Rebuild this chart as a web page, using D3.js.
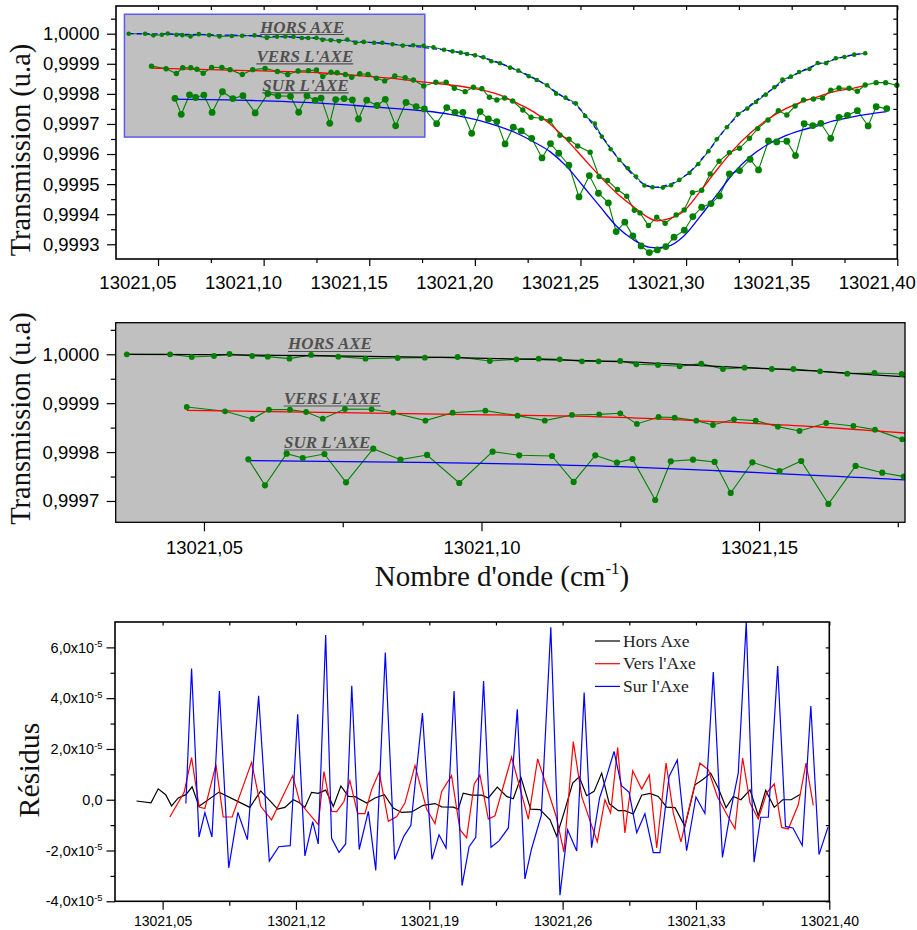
<!DOCTYPE html>
<html><head><meta charset="utf-8">
<script src="https://cdn.jsdelivr.net/npm/d3@7"></script>
<style>body{margin:0;background:#fff}svg{display:block}</style>
</head><body>
<svg id="chart" width="917" height="930"></svg>
<script>
// ---------------- DATA ----------------
// Measured transmission (wavenumber in cm-1, transmission in u.a)
const horsX = [13021.0361,13021.0439,13021.0478,13021.0518,13021.0546,13021.0587,13021.0615,13021.0654,13021.0693,13021.0742,
13021.0791,13021.0849,13021.0898,13021.0957,13021.1015,13021.1063,13021.1103,13021.1141,13021.1181,13021.1211,
13021.1250,13021.1279,13021.1318,13021.1357,13021.1396,13021.1435,13021.1474,13021.1523,13021.1562,13021.1610,
13021.1659,13021.1708,13021.1757,13021.1804,13021.1854,13021.1894,13021.1933,13021.1963,13021.2001,13021.2040,
13021.2078,13021.2119,13021.2167,13021.2206,13021.2255,13021.2293,13021.2342,13021.2385,13021.2429,13021.2478,
13021.2522,13021.2568,13021.2601,13021.2643,13021.2684,13021.2724,13021.2763,13021.2803,13021.2841,13021.2890,
13021.2929,13021.2968,13021.3016,13021.3058,13021.3106,13021.3145,13021.3193,13021.3245,13021.3290,13021.3331,
13021.3377,13021.3418,13021.3456,13021.3496,13021.3535,13021.3584,13021.3623,13021.3663,13021.3709,13021.3750,
13021.3796,13021.3848];
const horsY = [1.0000000,1.0000000,0.9999945,0.9999965,1.0000006,0.9999965,0.9999952,0.9999911,0.9999986,0.9999952,
0.9999911,0.9999924,0.9999931,0.9999945,0.9999863,0.9999897,0.9999911,0.9999897,0.9999856,0.9999856,
0.9999863,0.9999795,0.9999781,0.9999754,0.9999808,0.9999699,0.9999727,0.9999699,0.9999699,0.9999652,
0.9999604,0.9999618,0.9999597,0.9999547,0.9999469,0.9999414,0.9999370,0.9999326,0.9999281,0.9999215,
0.9999082,0.9999016,0.9998872,0.9998772,0.9998584,0.9998462,0.9998285,0.9998008,0.9997875,0.9997687,
0.9997266,0.9997011,0.9996579,0.9996159,0.9995804,0.9995528,0.9995251,0.9994952,0.9994896,0.9994885,
0.9994963,0.9995140,0.9995372,0.9995671,0.9996092,0.9996491,0.9996890,0.9997332,0.9997510,0.9997731,
0.9997975,0.9998218,0.9998473,0.9998573,0.9998728,0.9998827,0.9999027,0.9999016,0.9999182,0.9999226,
0.9999303,0.9999348];

const versX = [13021.0469,13021.0538,13021.0587,13021.0617,13021.0655,13021.0684,13021.0714,13021.0754,13021.0802,13021.0841,
13021.0899,13021.0948,13021.1007,13021.1065,13021.1114,13021.1163,13021.1212,13021.1250,13021.1280,13021.1319,
13021.1348,13021.1387,13021.1417,13021.1455,13021.1494,13021.1534,13021.1573,13021.1621,13021.1670,13021.1709,
13021.1758,13021.1815,13021.1864,13021.1903,13021.1954,13021.1993,13021.2033,13021.2069,13021.2104,13021.2141,
13021.2179,13021.2227,13021.2266,13021.2315,13021.2356,13021.2403,13021.2446,13021.2487,13021.2546,13021.2588,
13021.2628,13021.2675,13021.2719,13021.2755,13021.2782,13021.2822,13021.2861,13021.2901,13021.2953,13021.2991,
13021.3030,13021.3074,13021.3114,13021.3156,13021.3205,13021.3253,13021.3300,13021.3339,13021.3388,13021.3437,
13021.3477,13021.3516,13021.3556,13021.3603,13021.3646,13021.3685,13021.3724,13021.3772,13021.3811,13021.3848,
13021.3900,13021.3945,13021.3998];
const versY = [0.9998922,0.9998834,0.9998677,0.9998868,0.9998868,0.9998820,0.9998684,0.9998881,0.9998875,0.9998806,
0.9998643,0.9998806,0.9998847,0.9998745,0.9998643,0.9998759,0.9998772,0.9998793,0.9998575,0.9998718,
0.9998704,0.9998643,0.9998554,0.9998670,0.9998643,0.9998520,0.9998431,0.9998595,0.9998534,0.9998459,
0.9998261,0.9998384,0.9998384,0.9998185,0.9998074,0.9998218,0.9998174,0.9997886,0.9997798,0.9997864,
0.9997764,0.9997465,0.9997222,0.9997189,0.9997111,0.9996624,0.9996491,0.9996269,0.9996059,0.9995251,
0.9995118,0.9994819,0.9994597,0.9994132,0.9994044,0.9993623,0.9993900,0.9993700,0.9993977,0.9994143,
0.9994719,0.9994797,0.9995339,0.9995760,0.9996048,0.9996192,0.9996524,0.9996845,0.9997133,0.9997443,
0.9997299,0.9997598,0.9997798,0.9997831,0.9997864,0.9998119,0.9998196,0.9998185,0.9998086,0.9998296,
0.9998373,0.9998373,0.9998285];

const surX = [13021.0580,13021.0610,13021.0649,13021.0678,13021.0717,13021.0756,13021.0805,13021.0854,13021.0902,13021.0960,
13021.1020,13021.1068,13021.1127,13021.1166,13021.1205,13021.1244,13021.1272,13021.1313,13021.1341,13021.1381,
13021.1420,13021.1449,13021.1488,13021.1537,13021.1576,13021.1625,13021.1674,13021.1722,13021.1761,13021.1819,
13021.1867,13021.1906,13021.1943,13021.1985,13021.2025,13021.2064,13021.2104,13021.2143,13021.2182,13021.2220,
13021.2269,13021.2318,13021.2358,13021.2397,13021.2445,13021.2493,13021.2542,13021.2585,13021.2632,13021.2669,
13021.2710,13021.2748,13021.2787,13021.2826,13021.2864,13021.2904,13021.2943,13021.2992,13021.3032,13021.3074,
13021.3118,13021.3158,13021.3205,13021.3253,13021.3303,13021.3343,13021.3390,13021.3429,13021.3477,13021.3518,
13021.3559,13021.3600,13021.3638,13021.3685,13021.3724,13021.3764,13021.3811,13021.3862,13021.3900,13021.3950];
const surY = [0.9997852,0.9997320,0.9997968,0.9997879,0.9997961,0.9997382,0.9998070,0.9997845,0.9997941,0.9997368,
0.9998009,0.9997934,0.9997920,0.9997389,0.9997934,0.9997784,0.9997859,0.9997020,0.9997811,0.9997845,
0.9997798,0.9997164,0.9997791,0.9997613,0.9997818,0.9996939,0.9997716,0.9997579,0.9997498,0.9997011,
0.9997543,0.9997388,0.9997388,0.9996690,0.9997410,0.9997166,0.9997078,0.9996336,0.9996890,0.9996768,
0.9996524,0.9995871,0.9996347,0.9996026,0.9995627,0.9994575,0.9995284,0.9994697,0.9994376,0.9993423,
0.9993734,0.9993280,0.9992947,0.9992726,0.9992814,0.9992925,0.9993235,0.9993468,0.9993922,0.9994232,
0.9994354,0.9994608,0.9995339,0.9995450,0.9995827,0.9995472,0.9996435,0.9996402,0.9996425,0.9995948,
0.9997011,0.9996945,0.9997022,0.9996524,0.9997222,0.9997288,0.9997443,0.9996934,0.9997576,0.9997510];

// Fitted profiles
const horsFitX = [13021.0361,13021.05,13021.07,13021.0925,13021.11,13021.125,13021.1435,13021.161,13021.1757,13021.19,
13021.20,13021.21,13021.22,13021.23,13021.24,13021.25,13021.26,13021.27,13021.28,13021.285,13021.29,13021.30,
13021.31,13021.32,13021.33,13021.34,13021.35,13021.36,13021.37,13021.38,13021.385];
const horsFitY = [1.0000000,0.9999995,0.9999970,0.9999938,0.9999895,0.9999849,0.9999747,0.9999652,0.9999543,0.9999410,
0.9999280,0.9999070,0.9998790,0.9998450,0.9997990,0.9997480,0.9996600,0.9995680,0.9995000,0.9994900,0.9994950,0.9995300,
0.9996050,0.9996950,0.9997600,0.9998120,0.9998580,0.9998920,0.9999140,0.9999310,0.9999350];
const versFitX = [13021.0469,13021.0925,13021.125,13021.1435,13021.161,13021.1763,13021.196,13021.212,13021.220,13021.2277,
13021.2356,13021.2435,13021.2514,13021.2593,13021.2672,13021.2751,13021.2814,13021.2861,13021.292,13021.2987,
13021.3066,13021.3145,13021.3224,13021.3303,13021.3382,13021.3461,13021.354,13021.3619,13021.3697,13021.3777,13021.384];
const versFitY = [0.9998854,0.9998775,0.9998710,0.9998616,0.9998513,0.9998390,0.9998220,0.9997960,0.9997690,0.9997410,
0.9997000,0.9996470,0.9995860,0.9995250,0.9994700,0.9994250,0.9993920,0.9993780,0.9993850,0.9994090,
0.9994750,0.9995470,0.9996140,0.9996690,0.9997130,0.9997470,0.9997710,0.9997890,0.9998070,0.9998170,0.9998270];
const surFitX = [13021.058,13021.0925,13021.125,13021.1435,13021.161,13021.1763,13021.1883,13021.204,13021.2198,13021.2277,
13021.2356,13021.2435,13021.2514,13021.2593,13021.2672,13021.2751,13021.283,13021.2861,13021.2909,13021.2987,
13021.3066,13021.3145,13021.3224,13021.3303,13021.3382,13021.3461,13021.354,13021.3619,13021.3697,13021.3777,13021.3856,13021.395];
const surFitY = [0.9997825,0.9997784,0.9997702,0.9997613,0.9997518,0.9997430,0.9997320,0.9997080,0.9996690,0.9996410,
0.9996080,0.9995580,0.9994920,0.9994250,0.9993590,0.9993150,0.9992900,0.9992890,0.9992920,0.9993260,
0.9993920,0.9994640,0.9995360,0.9995910,0.9996300,0.9996580,0.9996780,0.9996930,0.9997100,0.9997220,0.9997320,0.9997410];

// Residuals (values in units of 1e-5)
const resHorsX = [13021.0363,13021.0439,13021.0477,13021.0516,13021.0547,13021.0582,13021.0622,13021.0655,13021.0691,13021.0796,
13021.0958,13021.1015,13021.1104,13021.1142,13021.1186,13021.1217,13021.1247,13021.1282,13021.1317,13021.1356,
13021.1396,13021.1436,13021.1475,13021.1510,13021.1571,13021.1615,13021.1664,13021.1711,13021.1755,13021.1807,
13021.1868,13021.1930,13021.1965,13021.2026,13021.2052,13021.2078,13021.2122,13021.2175,13021.2210,13021.2257,
13021.2306,13021.2341,13021.2381,13021.2432,13021.2481,13021.2534,13021.2569,13021.2607,13021.2653,13021.2687,
13021.2726,13021.2765,13021.2805,13021.2845,13021.2892,13021.2927,13021.2971,13021.3015,13021.3059,13021.3102,
13021.3146,13021.3190,13021.3242,13021.3295,13021.3338,13021.3377,13021.3417,13021.3458,13021.3496,13021.3536,
13021.3584,13021.3627,13021.3666,13021.3711,13021.3755,13021.3800,13021.3846];
const resHorsV = [-0.05,-0.12,0.43,0.20,-0.24,0.07,0.20,0.51,-0.26,0.30,
-0.30,0.35,-0.37,-0.30,0.00,-0.11,-0.30,0.29,0.25,0.38,
-0.26,0.54,0.13,0.12,-0.13,0.07,0.20,-0.33,-0.50,-0.48,
-0.22,-0.15,-0.28,-0.29,-0.37,0.26,0.18,0.18,0.07,0.50,
0.13,0.04,0.88,-0.37,-0.39,-0.79,-1.44,-0.52,0.66,0.90,
0.16,0.33,1.05,-0.16,-0.43,-0.43,-0.56,0.18,0.25,0.13,
-0.29,-0.31,-1.05,0.59,0.81,1.05,0.46,-0.31,0.13,0.00,
0.39,-0.63,0.37,-0.30,0.00,0.00,0.21];
const resVersX = [13021.0538,13021.0613,13021.0652,13021.0692,13021.0722,13021.0780,13021.0818,13021.0865,13021.0967,13021.1015,
13021.1072,13021.1183,13021.1221,13021.1317,13021.1347,13021.1387,13021.1414,13021.1452,13021.1483,13021.1524,
13021.1562,13021.1597,13021.1637,13021.1685,13021.1729,13021.1772,13021.1825,13021.1886,13021.1930,13021.1965,
13021.2017,13021.2061,13021.2096,13021.2136,13021.2166,13021.2210,13021.2245,13021.2332,13021.2420,13021.2469,
13021.2516,13021.2565,13021.2607,13021.2656,13021.2700,13021.2782,13021.2822,13021.2852,13021.2889,13021.2927,
13021.2968,13021.3015,13021.3055,13021.3094,13021.3143,13021.3181,13021.3221,13021.3321,13021.3365,13021.3412,
13021.3458,13021.3505,13021.3545,13021.3584,13021.3627,13021.3671,13021.3711,13021.3750,13021.3785,13021.3837,
13021.3878,13021.3916];
const resVersV = [-0.68,0.29,1.66,-0.29,-0.35,1.38,-0.68,-0.68,1.47,-0.26,
-0.79,0.95,-0.12,-0.98,1.11,-0.46,-0.47,-0.07,0.75,-0.55,
-0.55,0.39,1.09,-0.85,-0.66,-0.13,1.35,-0.37,-0.94,0.33,
0.95,-1.18,-1.50,0.62,0.97,-0.76,-0.63,1.68,-0.76,1.61,
0.52,-0.63,-2.06,2.29,0.13,-1.66,0.00,-0.52,2.06,-1.31,
1.14,0.42,0.98,-1.90,1.44,-0.52,-1.66,1.44,1.18,0.13,
-0.52,-1.15,1.64,-0.13,-0.76,0.26,0.62,-1.09,-1.15,-0.20,
1.44,-0.22];
const resSurX = [13021.0622,13021.0652,13021.0691,13021.0722,13021.0759,13021.0798,13021.0847,13021.0895,13021.0945,13021.1004,
13021.1060,13021.1110,13021.1170,13021.1209,13021.1247,13021.1288,13021.1317,13021.1356,13021.1387,13021.1426,
13021.1461,13021.1493,13021.1532,13021.1580,13021.1619,13021.1669,13021.1718,13021.1766,13021.1803,13021.1864,
13021.1914,13021.1951,13021.1988,13021.2030,13021.2072,13021.2109,13021.2144,13021.2185,13021.2224,13021.2266,
13021.2315,13021.2362,13021.2402,13021.2437,13021.2488,13021.2538,13021.2586,13021.2626,13021.2674,13021.2713,
13021.2752,13021.2794,13021.2828,13021.2870,13021.2909,13021.2949,13021.2989,13021.3032,13021.3076,13021.3111,
13021.3159,13021.3202,13021.3251,13021.3300,13021.3347,13021.3391,13021.3439,13021.3480,13021.3522,13021.3564,
13021.3605,13021.3640,13021.3680,13021.3729,13021.3770,13021.3809,13021.3858,13021.3903,13021.3946,13021.3993];
const resSurV = [-0.15,5.17,-1.47,-0.51,-1.47,4.28,-2.68,-0.50,-1.57,4.09,
-2.42,-1.85,-1.81,3.37,-2.21,-0.86,-1.74,6.49,-1.52,-2.07,
-1.74,4.49,-1.96,-0.46,-2.78,5.80,-2.35,-1.44,-1.02,3.41,
-2.35,-1.38,-1.90,4.28,-3.38,-1.85,-1.48,4.68,-1.87,-1.62,
-1.11,3.56,-3.12,-1.93,-0.62,6.79,-3.76,-1.18,-2.02,4.22,
-1.89,0.07,0.85,1.90,0.55,0.29,-1.30,-0.55,-2.08,-2.08,
0.92,1.57,-2.01,0.11,-0.54,5.03,-2.27,-0.52,1.05,7.00,
-2.46,-0.69,-0.69,5.27,-1.05,-1.11,-1.80,3.69,-2.16,-1.08];

// Axes ticks / domains
const topXTicks = [13021.05,13021.10,13021.15,13021.20,13021.25,13021.30,13021.35,13021.40];
const topXMinor = [13021.075,13021.125,13021.175,13021.225,13021.275,13021.325,13021.375];
const topYTicks = [0.9993,0.9994,0.9995,0.9996,0.9997,0.9998,0.9999,1.0000];
const topYMinor = [0.99935,0.99945,0.99955,0.99965,0.99975,0.99985,0.99995,1.00005];
const midXDomain = [13021.0341, 13021.1763];
const midYDomain = [0.9996564, 1.0000646];
const midXTicks = [13021.05,13021.10,13021.15];
const midXMinor = [13021.075,13021.125,13021.175];
const midYTicks = [0.9997,0.9998,0.9999,1.0000];
const midYMinor = [0.99975,0.99985,0.99995,1.00005];
const resXTicks = [13021.05,13021.12,13021.19,13021.26,13021.33,13021.40];
const resXMinor = [13021.085,13021.155,13021.225,13021.295,13021.365];
const resYTicks = [-4,-2,0,2,4,6];
const resYMinor = [-3,-1,1,3,5];
const seriesNames = ["HORS AXE","VERS L'AXE","SUR L'AXE"];
const legendNames = ["Hors Axe","Vers l'Axe","Sur l'Axe"];
const topLabelPos = [[13021.1182,1.000004],[13021.1195,0.9999063],[13021.1198,0.9998098]];
const midLabelPos = [[13021.0727,1.0000098],[13021.0731,0.9998984],[13021.0722,0.9998084]];

// ---------------- DRAWING ----------------
const svg = d3.select("#chart");
const SANS = "'Liberation Sans', Arial, sans-serif";
const SERIF = "'Liberation Serif', 'Times New Roman', serif";
const GREEN = "#008000";
const fmtX = d => d.toFixed(2).replace(".", ",");
const fmtY = d => d.toFixed(4).replace(".", ",");

svg.append("rect").attr("width",917).attr("height",930).attr("fill","#fff");
const defs = svg.append("defs");

const xT = d3.scaleLinear().domain([13021.0301, 13021.40]).range([116, 897.3]);
const yT = d3.scaleLinear().domain([0.9992511, 1.0000921]).range([259, 6]);
const xM = d3.scaleLinear().domain(midXDomain).range([115.7, 905]);
const yM = d3.scaleLinear().domain(midYDomain).range([522.3, 322.7]);
const xB = d3.scaleLinear().domain([13021.025, 13021.40]).range([115, 829.3]);
const yB = d3.scaleLinear().domain([-4, 7]).range([901.3, 622]);

function clip(id, x, y) {
  defs.append("clipPath").attr("id", id).append("rect")
    .attr("x", x.range()[0]).attr("y", y.range()[1])
    .attr("width", x.range()[1]-x.range()[0]).attr("height", y.range()[0]-y.range()[1]);
}
clip("cT", xT, yT); clip("cM", xM, yM); clip("cB", xB, yB);

const series = [
  {xs:horsX, ys:horsY, fx:horsFitX, fy:horsFitY, topFit:"#0000ff", dash:"5,3", midFit:"#000000", rT:2.3, rM:2.9},
  {xs:versX, ys:versY, fx:versFitX, fy:versFitY, topFit:"#ff0000", dash:null, midFit:"#ff0000", rT:2.7, rM:2.9},
  {xs:surX,  ys:surY,  fx:surFitX,  fy:surFitY,  topFit:"#0000ff", dash:null, midFit:"#0000ff", rT:3.4, rM:3.1}
];

function drawData(g, x, y, mid) {
  const line = d3.line().x(d=>x(d[0])).y(d=>y(d[1]));
  const fit = d3.line().curve(d3.curveMonotoneX).x(d=>x(d[0])).y(d=>y(d[1]));
  series.forEach(s => {
    g.append("path").datum(d3.zip(s.xs, s.ys)).attr("d", line)
      .attr("fill","none").attr("stroke",GREEN).attr("stroke-width",1.1);
  });
  series.forEach(s => {
    g.append("path").datum(d3.zip(s.fx, s.fy)).attr("d", fit)
      .attr("fill","none").attr("stroke", mid ? s.midFit : s.topFit)
      .attr("stroke-width", 1.3).attr("stroke-dasharray", mid ? null : s.dash);
  });
  series.forEach(s => {
    g.selectAll(null).data(d3.zip(s.xs, s.ys)).join("circle")
      .attr("cx", d=>x(d[0])).attr("cy", d=>y(d[1]))
      .attr("r", mid ? s.rM : s.rT).attr("fill", GREEN);
  });
}

function drawLabels(g, x, y, pos) {
  seriesNames.forEach((n,i) => {
    const t = g.append("text").attr("x", x(pos[i][0])).attr("y", y(pos[i][1]))
      .attr("text-anchor","middle").attr("font-family",SERIF).attr("font-weight","bold")
      .attr("font-style","italic").attr("font-size",17).attr("fill","#505050").text(n);
    const w = t.node().getComputedTextLength();
    g.append("line").attr("x1", x(pos[i][0])-w/2).attr("x2", x(pos[i][0])+w/2)
      .attr("y1", y(pos[i][1])+2).attr("y2", y(pos[i][1])+2)
      .attr("stroke","#505050").attr("stroke-width",1.1);
  });
}

function styleAxis(g, fs) {
  g.select(".domain").remove();
  g.selectAll(".tick line").attr("stroke","#000").attr("stroke-width",1.2);
  g.selectAll(".tick text").attr("fill","#000").attr("font-size",fs).attr("font-family",SANS);
  return g;
}
function frame(x, y, w) {
  svg.append("rect").attr("x", x.range()[0]).attr("y", y.range()[1])
    .attr("width", x.range()[1]-x.range()[0]).attr("height", y.range()[0]-y.range()[1])
    .attr("fill","none").attr("stroke","#000").attr("stroke-width", w);
}

// ----- TOP PANEL -----
const gT = svg.append("g").attr("clip-path","url(#cT)");
gT.append("rect").attr("x", xT(midXDomain[0])).attr("y", yT(midYDomain[1]))
  .attr("width", xT(midXDomain[1])-xT(midXDomain[0])).attr("height", yT(midYDomain[0])-yT(midYDomain[1]))
  .attr("fill","#c0c0c0").attr("stroke","#5a5af0").attr("stroke-width",1.5);
drawLabels(gT, xT, yT, topLabelPos);
const gTd = svg.append("g");
drawData(gTd, xT, yT, false);

styleAxis(svg.append("g").attr("transform","translate(0,259)")
  .call(d3.axisBottom(xT).tickValues(topXTicks).tickFormat(fmtX).tickSize(7).tickPadding(10).tickSizeOuter(0)), 18.5)
  .selectAll(".tick text").attr("text-anchor","end").attr("x", 18);
styleAxis(svg.append("g").attr("transform","translate(0,259)")
  .call(d3.axisBottom(xT).tickValues(topXMinor).tickFormat("").tickSize(4).tickSizeOuter(0)), 10);
styleAxis(svg.append("g").attr("transform","translate(116,0)")
  .call(d3.axisLeft(yT).tickValues(topYTicks).tickFormat(fmtY).tickSize(9).tickPadding(7.5).tickSizeOuter(0)), 18.5);
styleAxis(svg.append("g").attr("transform","translate(116,0)")
  .call(d3.axisLeft(yT).tickValues(topYMinor).tickFormat("").tickSize(5).tickSizeOuter(0)), 10);
styleAxis(svg.append("g").attr("transform","translate(0,6)")
  .call(d3.axisTop(xT).tickValues(topXTicks.concat(topXMinor)).tickFormat("").tickSize(-4).tickSizeOuter(0)), 10);
styleAxis(svg.append("g").attr("transform","translate(897.3,0)")
  .call(d3.axisRight(yT).tickValues(topYTicks.concat(topYMinor)).tickFormat("").tickSize(-4).tickSizeOuter(0)), 10);
frame(xT, yT, 1.6);

svg.append("text").attr("transform","translate(30,150) rotate(-90)").attr("text-anchor","middle")
  .attr("font-family",SERIF).attr("font-size",28.5).attr("fill","#111").text("Transmission (u.a)");

// ----- MIDDLE PANEL -----
svg.append("rect").attr("x", xM.range()[0]).attr("y", yM.range()[1])
  .attr("width", xM.range()[1]-xM.range()[0]).attr("height", yM.range()[0]-yM.range()[1]).attr("fill","#c0c0c0");
const gM = svg.append("g").attr("clip-path","url(#cM)");
drawLabels(gM, xM, yM, midLabelPos);
drawData(gM, xM, yM, true);
styleAxis(svg.append("g").attr("transform",`translate(0,${yM.range()[0]})`)
  .call(d3.axisBottom(xM).tickValues(midXTicks).tickFormat(fmtX).tickSize(9).tickPadding(9.5).tickSizeOuter(0)), 18.5);
styleAxis(svg.append("g").attr("transform",`translate(0,${yM.range()[0]})`)
  .call(d3.axisBottom(xM).tickValues(midXMinor).tickFormat("").tickSize(5).tickSizeOuter(0)), 10);
styleAxis(svg.append("g").attr("transform",`translate(${xM.range()[0]},0)`)
  .call(d3.axisLeft(yM).tickValues(midYTicks).tickFormat(fmtY).tickSize(9).tickPadding(7.5).tickSizeOuter(0)), 18.5);
styleAxis(svg.append("g").attr("transform",`translate(${xM.range()[0]},0)`)
  .call(d3.axisLeft(yM).tickValues(midYMinor).tickFormat("").tickSize(5).tickSizeOuter(0)), 10);
frame(xM, yM, 1.3);

svg.append("text").attr("transform","translate(30,418.5) rotate(-90)").attr("text-anchor","middle")
  .attr("font-family",SERIF).attr("font-size",28.5).attr("fill","#111").text("Transmission (u.a)");
const xt = svg.append("text").attr("x",502).attr("y",586).attr("text-anchor","middle")
  .attr("font-family",SERIF).attr("font-size",29).attr("fill","#111");
xt.append("tspan").text("Nombre d'onde (cm");
xt.append("tspan").attr("dy",-12).attr("font-size",17).text("-1");
xt.append("tspan").attr("dy",12).text(")");

// ----- BOTTOM PANEL (residuals) -----
const gB = svg.append("g").attr("clip-path","url(#cB)");
const rLine = d3.line().x(d=>xB(d[0])).y(d=>yB(d[1]));
const resid = [[resHorsX,resHorsV,"#000000"],[resVersX,resVersV,"#ff0000"],[resSurX,resSurV,"#0000ff"]];
resid.forEach(r => {
  gB.append("path").datum(d3.zip(r[0], r[1])).attr("d", rLine)
    .attr("fill","none").attr("stroke", r[2]).attr("stroke-width",1.2);
});
styleAxis(svg.append("g").attr("transform","translate(0,901.3)")
  .call(d3.axisBottom(xB).tickValues(resXTicks).tickFormat(fmtX).tickSize(8.5).tickPadding(6.5).tickSizeOuter(0)), 14);
styleAxis(svg.append("g").attr("transform","translate(0,901.3)")
  .call(d3.axisBottom(xB).tickValues(resXMinor).tickFormat("").tickSize(4.5).tickSizeOuter(0)), 10);
const gyB = styleAxis(svg.append("g").attr("transform","translate(115,0)")
  .call(d3.axisLeft(yB).tickValues(resYTicks).tickSize(8.5).tickPadding(4).tickSizeOuter(0)), 14.5);
gyB.selectAll(".tick text").each(function(d) {
  const t = d3.select(this); t.text(null);
  if (d === 0) { t.append("tspan").text("0,0"); }
  else {
    t.append("tspan").text(d.toFixed(1).replace(".", ",") + "x10");
    t.append("tspan").attr("dy","-0.55em").attr("font-size","0.65em").text("-5");
  }
});
styleAxis(svg.append("g").attr("transform","translate(115,0)")
  .call(d3.axisLeft(yB).tickValues(resYMinor).tickFormat("").tickSize(4.5).tickSizeOuter(0)), 10);
styleAxis(svg.append("g").attr("transform","translate(0,622)")
  .call(d3.axisTop(xB).tickValues(resXTicks.concat(resXMinor)).tickFormat("").tickSize(-3.5).tickSizeOuter(0)), 10);
styleAxis(svg.append("g").attr("transform","translate(829.3,0)")
  .call(d3.axisRight(yB).tickValues(resYTicks.concat(resYMinor)).tickFormat("").tickSize(-3.5).tickSizeOuter(0)), 10);
frame(xB, yB, 1.6);

// legend
const legColors = ["#000000","#ff0000","#0000ff"];
const leg = svg.append("g").attr("transform","translate(595,641)");
legendNames.forEach((n,i) => {
  leg.append("line").attr("x1",0).attr("x2",25).attr("y1",i*22.7).attr("y2",i*22.7)
    .attr("stroke",legColors[i]).attr("stroke-width",1.2);
  leg.append("text").attr("x",28).attr("y",i*22.7+5.5).attr("font-family",SERIF)
    .attr("font-size",17.5).attr("fill","#222").text(n);
});

svg.append("text").attr("transform","translate(39,770) rotate(-90)").attr("text-anchor","middle")
  .attr("font-family",SERIF).attr("font-size",30).attr("fill","#111").text("Résidus");
</script>
</body></html>
